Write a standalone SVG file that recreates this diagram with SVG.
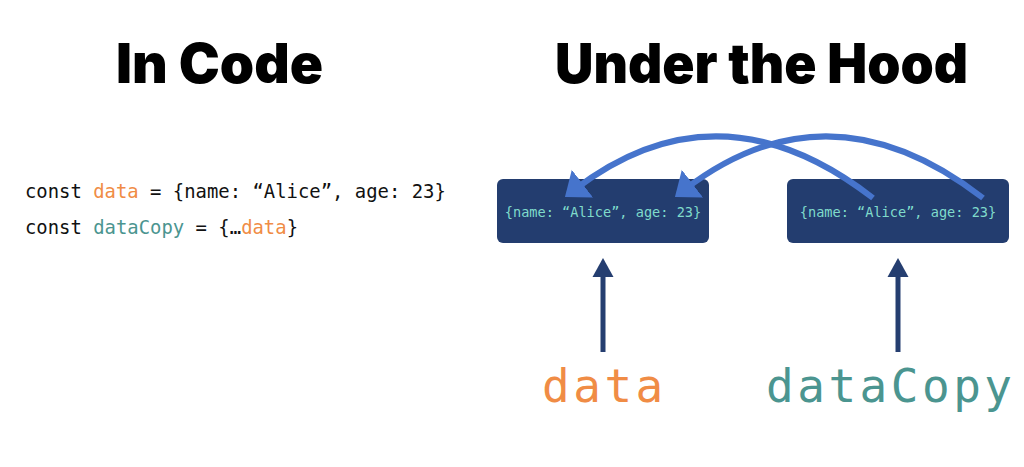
<svg xmlns="http://www.w3.org/2000/svg" width="1024" height="467" viewBox="0 0 1024 467">
  <style>
    .title { font-family: Inter, "Liberation Sans", Arial, sans-serif; font-weight: 900; font-size: 55px; fill: #000; }
    .code { font-family: "DejaVu Sans Mono", "Liberation Mono", monospace; font-size: 18.9px; fill: #111; }
    .box { fill: #233D6F; }
    .boxtext { font-family: "DejaVu Sans Mono", "Liberation Mono", monospace; font-size: 13.6px; fill: #7FDBCB; text-anchor: middle; }
    .label { font-family: "DejaVu Sans Mono", "Liberation Mono", monospace; font-size: 46px; letter-spacing: 3.5px; }
    .orange { fill: #F08C45; }
    .teal { fill: #4B9590; }
    .ref { fill: none; stroke: #4674CC; stroke-width: 6; marker-end: url(#headBlue); }
    .ptr { fill: none; stroke: #253E70; stroke-width: 5; marker-end: url(#headNavy); }
  </style>
  <defs>
    <marker id="headBlue" markerUnits="userSpaceOnUse" viewBox="0 -18 23 36" markerWidth="23" markerHeight="36" refX="10" refY="0" orient="auto">
      <polygon points="0,-17.5 22,0 0,17.5" fill="#4674CC"/>
    </marker>
    <marker id="headNavy" markerUnits="userSpaceOnUse" viewBox="0 -11 20 22" markerWidth="20" markerHeight="22" refX="5" refY="0" orient="auto">
      <polygon points="0,-10.5 19,0 0,10.5" fill="#253E70"/>
    </marker>
  </defs>
  <rect width="1024" height="467" fill="#fff"/>

  <g id="title-code">
    <text class="title" x="116" y="83" textLength="207" lengthAdjust="spacingAndGlyphs">In Code</text>
  </g>
  <g id="title-hood">
    <text class="title" x="555" y="83" textLength="413" lengthAdjust="spacingAndGlyphs">Under the Hood</text>
  </g>

  <g id="code">
    <text class="code" x="25" y="198">const <tspan class="orange">data</tspan> = {name: “Alice”, age: 23}</text>
    <text class="code" x="25" y="234">const <tspan class="teal">dataCopy</tspan> = {…<tspan class="orange">data</tspan>}</text>
  </g>

  <g id="object1">
    <rect class="box" x="497" y="179" width="212" height="64" rx="6"/>
    <text class="boxtext" x="603" y="217">{name: “Alice”, age: 23}</text>
  </g>
  <g id="object2">
    <rect class="box" x="787" y="179" width="222" height="64" rx="6"/>
    <text class="boxtext" x="898" y="217">{name: “Alice”, age: 23}</text>
  </g>

  <g id="label-data">
    <text class="label orange" x="542" y="402">data</text>
  </g>
  <g id="label-dataCopy">
    <text class="label teal" x="766" y="402">dataCopy</text>
  </g>

  <g id="connectors">
    <path class="ref" d="M873,198 Q719,79 574.5,189.7"/>
    <path class="ref" d="M983,198 Q829,79 684.5,189.7"/>
    <path class="ptr" d="M603,352 L603,272"/>
    <path class="ptr" d="M898,352 L898,272"/>
  </g>
</svg>
